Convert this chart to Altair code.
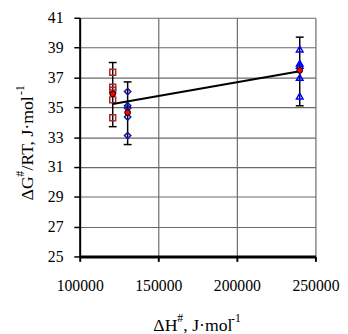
import altair as alt
import pandas as pd

# ---- data ----
sq_x = 121000
sq_y = [37.35, 36.35, 36.15, 35.5, 34.3]
dm_x = 130500
dm_y = [36.05, 35.1, 34.95, 34.35, 33.1]
tr_x = 240000
tr_y = [38.9, 37.95, 37.8, 37.0, 35.75]

mean_x = [121000, 130500, 240000]
mean_y = [35.9, 34.65, 37.47]
err_lo = [33.7, 32.5, 35.1]
err_hi = [38.0, 36.7, 39.7]

x_ticks = [100000, 150000, 200000, 250000]
y_ticks = [25, 27, 29, 31, 33, 35, 37, 39, 41]

FONT = "Liberation Serif"
LFONT = "'Liberation Serif', 'Times New Roman', serif"

sq = pd.DataFrame({"x": [sq_x] * len(sq_y), "y": sq_y})
dm = pd.DataFrame({"x": [dm_x] * len(dm_y), "y": dm_y})
tr = pd.DataFrame({"x": [tr_x] * len(tr_y), "y": tr_y})
means = pd.DataFrame({"x": mean_x, "y": mean_y, "lo": err_lo, "hi": err_hi})
caps = pd.DataFrame({"x": mean_x + mean_x, "y": err_lo + err_hi})

xs = alt.Scale(domain=[100000, 250000], nice=False, zero=False)
ys = alt.Scale(domain=[25, 41], nice=False, zero=False)

x_axis = alt.Axis(values=x_ticks, format="d", title=None, grid=True,
                  gridColor="#6a6a6a", gridWidth=1.2,
                  domainColor="black", domainWidth=3,
                  tickColor="black", tickWidth=2, tickSize=5,
                  labelFont=LFONT, labelFontSize=16, labelColor="black",
                  labelPadding=17, labelFlush=False, labelOverlap=False)
y_axis = alt.Axis(values=y_ticks, title=None, grid=True,
                  gridColor="#6a6a6a", gridWidth=1.2,
                  domainColor="black", domainWidth=2,
                  tickColor="black", tickWidth=1.5, tickSize=6,
                  labelFont=LFONT, labelFontSize=16, labelColor="black",
                  labelPadding=11, labelFlush=False, labelOverlap=False)

X = alt.X("x:Q", scale=xs, axis=x_axis)
Y = alt.Y("y:Q", scale=ys, axis=y_axis)

bars = alt.Chart(means).mark_rule(color="black", strokeWidth=1.5).encode(
    x=X, y=alt.Y("lo:Q", scale=ys, axis=y_axis), y2="hi:Q")
cap_marks = alt.Chart(caps).mark_tick(orient="horizontal", size=8, thickness=1.5,
                                      color="black", opacity=1).encode(x=X, y=Y)

squares = alt.Chart(sq).mark_point(shape="square", filled=False, size=36,
                                   strokeWidth=1.5, color="#a8282a", opacity=1).encode(x=X, y=Y)
diamonds = alt.Chart(dm).mark_point(shape="diamond", filled=False, size=42,
                                    strokeWidth=1.5, color="#14149a", opacity=1).encode(x=X, y=Y)
triangles = alt.Chart(tr).mark_point(shape="triangle-up", filled=False, size=45,
                                     strokeWidth=1.5, color="#0000ff", opacity=1).encode(x=X, y=Y)

trend = alt.Chart(means).transform_regression("x", "y", method="linear").mark_line(
    color="black", strokeWidth=2).encode(x=X, y=Y)

mean_pts = alt.Chart(means).mark_point(shape="circle", filled=True, size=34, fill="#ff0000",
                                       stroke="black", strokeWidth=1, opacity=1).encode(x=X, y=Y)

# ---- axis titles built from pieces (superscripts) ----
dummy = alt.Data(values=[{"a": 1}])
F, S = 18, 12


def piece(text, px, py, dx, dy, size, angle=0):
    kw = dict(text=text, align="left", baseline="alphabetic", font=FONT,
              fontSize=size, color="black", dx=dx, dy=dy)
    if angle:
        kw["angle"] = angle
    return alt.Chart(dummy).mark_text(**kw).encode(x=alt.value(px), y=alt.value(py))


XT_X, XT_Y = 75, 319
x_title = [
    piece("ΔH", XT_X, XT_Y, 0, 0, F),
    piece("#", XT_X, XT_Y, 24.2, -9, S),
    piece(", J·mol", XT_X, XT_Y, 30.5, 0, F),
    piece("-1", XT_X, XT_Y, 79, -9, S),
]
YT_X, YT_Y = -48, 186
y_title = [
    piece("ΔG", YT_X, YT_Y, 0, 0, F, 270),
    piece("#", YT_X, YT_Y, 24.2, -9, S, 270),
    piece("/RT, J·mol", YT_X, YT_Y, 30.5, 0, F, 270),
    piece("-1", YT_X, YT_Y, 107.5, -9, S, 270),
]

chart = alt.layer(bars, cap_marks, squares, diamonds, triangles, trend, mean_pts,
                  *x_title, *y_title).properties(
    width=240, height=243,
    autosize=alt.AutoSizeParams(type="none"),
    padding={"left": 73, "top": 7, "right": 25, "bottom": 76},
    background="white",
).configure_view(stroke=None).configure_axis(
    labelFont=LFONT, labelFontSize=16, labelColor="black"
).configure_text(font=FONT)

chart.save("out.html", embed_options={"renderer": "svg", "actions": False})
